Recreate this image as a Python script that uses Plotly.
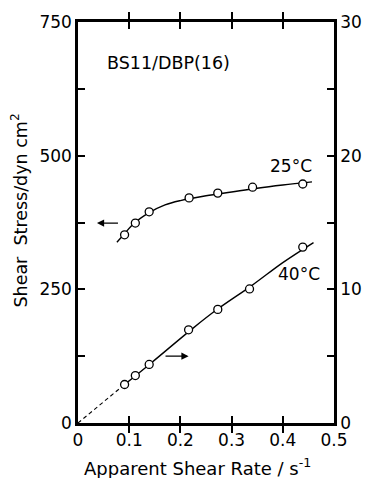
import plotly.graph_objects as go

# --- data ---
rate_25 = [0.091, 0.112, 0.139, 0.217, 0.273, 0.341, 0.439]
stress_25 = [352, 374, 395, 421, 430, 441, 447]  # left axis (dyn cm^-2)

fit_rate_25 = [0.076, 0.09, 0.11, 0.14, 0.17, 0.20, 0.25, 0.30, 0.35, 0.40, 0.457]
fit_stress_25 = [338, 353, 374, 394, 408, 416, 425, 432, 439, 445, 451]

rate_40 = [0.091, 0.112, 0.139, 0.216, 0.273, 0.335, 0.439]
stress_40 = [2.88, 3.55, 4.38, 6.97, 8.50, 10.03, 13.16]  # right axis

fit_rate_40 = [0.09, 0.14, 0.22, 0.27, 0.34, 0.40, 0.46]
fit_stress_40 = [2.85, 4.4, 6.95, 8.45, 10.3, 12.0, 13.5]

dash_rate_40 = [0.0, 0.09]
dash_stress_40 = [0.0, 2.85]

x_ticks = [0, 0.1, 0.2, 0.3, 0.4, 0.5]
x_ticktext = ["0", "0.1", "0.2", "0.3", "0.4", "0.5"]
yl_ticks = [0, 250, 500, 750]
yl_minor = [125, 375, 625]
yr_ticks = [0, 10, 20, 30]
yr_minor = [5, 15, 25]

FONT = "DejaVu Sans"
fig = go.Figure()

fig.add_trace(go.Scatter(x=fit_rate_25, y=fit_stress_25, mode="lines",
                         line=dict(color="black", width=1.4, shape="spline"),
                         showlegend=False, hoverinfo="skip"))
fig.add_trace(go.Scatter(x=rate_25, y=stress_25, mode="markers",
                         marker=dict(symbol="circle", size=8, color="white",
                                     line=dict(color="black", width=1.3)),
                         showlegend=False))
fig.add_trace(go.Scatter(x=fit_rate_40, y=fit_stress_40, mode="lines", yaxis="y2",
                         line=dict(color="black", width=1.4, shape="spline"),
                         showlegend=False, hoverinfo="skip"))
fig.add_trace(go.Scatter(x=dash_rate_40, y=dash_stress_40, mode="lines", yaxis="y2",
                         line=dict(color="black", width=1.1, dash="4px,3px"),
                         showlegend=False, hoverinfo="skip"))
fig.add_trace(go.Scatter(x=rate_40, y=stress_40, mode="markers", yaxis="y2",
                         marker=dict(symbol="circle", size=8, color="white",
                                     line=dict(color="black", width=1.3)),
                         showlegend=False))

axis_common = dict(showgrid=False, zeroline=False, showline=True, linecolor="black",
                   linewidth=2.5, ticks="inside", ticklen=7, tickwidth=1.8,
                   tickcolor="black", tickfont=dict(family=FONT, size=17, color="black"))
minor_common = dict(ticks="inside", ticklen=7, tickwidth=1.8, tickcolor="black",
                    showgrid=False)

W, H = 374, 478
L, R, T, B = 78, 23, 17, 55
pw, ph = W - L - R, H - T - B


def px(x, y):
    return (x - L) / pw, 1 - (y - T) / ph


def label(text, x, y, size=16, angle=0):
    xp, yp = px(x, y)
    return dict(text=text, x=xp, y=yp, xref="paper", yref="paper",
                xanchor="center", yanchor="middle", textangle=angle,
                showarrow=False, font=dict(family=FONT, size=size, color="black"))


fig.update_layout(
    width=W, height=H,
    margin=dict(l=L, r=R, t=T, b=B),
    paper_bgcolor="white", plot_bgcolor="white",
    xaxis=dict(range=[0, 0.5], tickvals=x_ticks, ticktext=x_ticktext,
               mirror="allticks", **axis_common),
    yaxis=dict(range=[0, 750], tickvals=yl_ticks,
               minor=dict(tickvals=yl_minor, **minor_common), **axis_common),
    yaxis2=dict(range=[0, 30], tickvals=yr_ticks,
                minor=dict(tickvals=yr_minor, **minor_common),
                overlaying="y", side="right", **axis_common),
    annotations=[
        label("BS11/DBP(16)", 174, 59, 17.5),
        label("25°C", 305, 163, 17),
        label("40°C", 314, 272, 17),
        label("Shear  Stress/dyn cm<sup>2</sup>", 15, 208, 17.5, -90),
        label("Apparent Shear Rate / s<sup>-1</sup>", 205, 468, 18),
        # arrows pointing to the relevant axes
        dict(x=0.037, y=374, ax=0.081, ay=374, xref="x", yref="y", axref="x", ayref="y",
             text="", showarrow=True, arrowhead=2, arrowsize=1.2, arrowwidth=1.2,
             arrowcolor="black"),
        dict(x=0.216, y=5.0, ax=0.168, ay=5.0, xref="x", yref="y2", axref="x", ayref="y2",
             text="", showarrow=True, arrowhead=2, arrowsize=1.2, arrowwidth=1.2,
             arrowcolor="black"),
    ],
)

fig.write_html("out.html")
